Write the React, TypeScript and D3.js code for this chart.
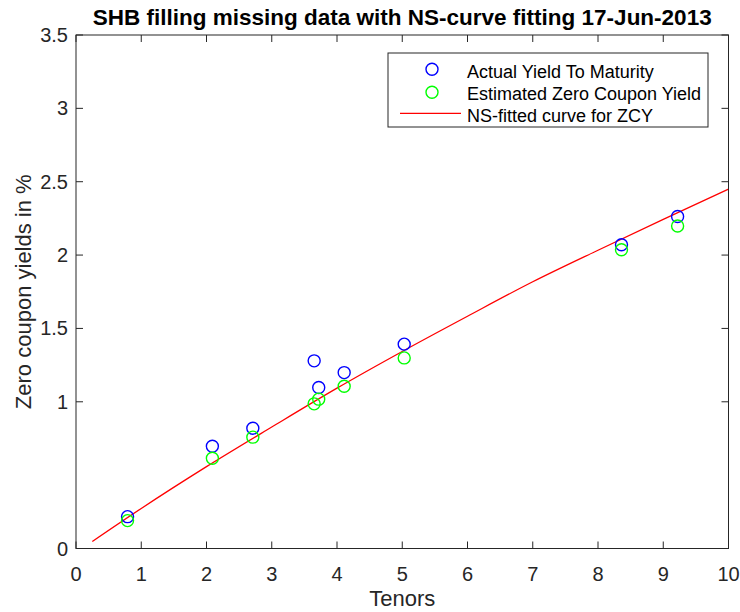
import React from "react";
import * as d3 from "d3";

const title = "SHB filling missing data with NS-curve fitting 17-Jun-2013";
const xLabel = "Tenors";
const yLabel = "Zero coupon yields in %";

const tenors = [0.79, 2.09, 2.71, 3.65, 3.72, 4.11, 5.03, 8.36, 9.22];
const actualYTM = [0.217, 0.697, 0.82, 1.279, 1.097, 1.199, 1.393, 2.07, 2.263];
const estimatedZCY = [0.19, 0.615, 0.759, 0.986, 1.018, 1.106, 1.299, 2.036, 2.198];

const curveX = [0.25, 1, 2, 3, 4, 5, 6, 7, 8, 9, 10];
const curveY = [0.048, 0.273, 0.558, 0.828, 1.093, 1.343, 1.583, 1.818, 2.033, 2.243, 2.45];

const xTicks = [0, 1, 2, 3, 4, 5, 6, 7, 8, 9, 10];
const yTicks = [0, 1, 1.5, 2, 2.5, 3, 3.5];

const legendLabels = [
  "Actual Yield To Maturity",
  "Estimated Zero Coupon Yield",
  "NS-fitted curve for ZCY",
];

export default function App() {
  const W = 740, H = 612;
  const L = 76, R = 728.5, T = 35, B = 548.5;
  const x = d3.scaleLinear().domain([0, 10]).range([L, R]);
  const y = d3.scaleLinear().domain([0, 3.5]).range([B, T]);
  const axisColor = "#262626";
  const font = "'Liberation Sans', Arial, Helvetica, sans-serif";
  const tickLen = 7;

  const line = d3
    .line<number>()
    .x((_, i) => x(curveX[i]))
    .y((d) => y(d))
    .curve(d3.curveMonotoneX);

  const legendBaselines = [78, 100, 121.5];

  return (
    <svg width={W} height={H} style={{ position: "absolute", left: 0, top: 0, background: "#fff" }} fontFamily={font}>
      <rect x={0} y={0} width={W} height={H} fill="#fff" />
      <path d={line(curveY) || ""} fill="none" stroke="#ff0000" strokeWidth={1.3} />
      {tenors.map((t, i) => (
        <circle key={"b" + i} cx={x(t)} cy={y(actualYTM[i])} r={6} fill="none" stroke="#0000ff" strokeWidth={1.4} />
      ))}
      {tenors.map((t, i) => (
        <circle key={"g" + i} cx={x(t)} cy={y(estimatedZCY[i])} r={6} fill="none" stroke="#00ff00" strokeWidth={1.4} />
      ))}
      {/* axes box */}
      <rect x={L} y={T} width={R - L} height={B - T} fill="none" stroke={axisColor} strokeWidth={1} />
      {xTicks.map((t) => (
        <g key={"xt" + t}>
          <line x1={x(t)} x2={x(t)} y1={B} y2={B - tickLen} stroke={axisColor} />
          <line x1={x(t)} x2={x(t)} y1={T} y2={T + tickLen} stroke={axisColor} />
          <text x={x(t)} y={581} textAnchor="middle" fontSize={20} fill={axisColor}>{t}</text>
        </g>
      ))}
      {yTicks.map((t) => (
        <g key={"yt" + t}>
          <line x1={L} x2={L + tickLen} y1={y(t)} y2={y(t)} stroke={axisColor} />
          <line x1={R} x2={R - tickLen} y1={y(t)} y2={y(t)} stroke={axisColor} />
          <text x={68} y={y(t) + 7} textAnchor="end" fontSize={20} fill={axisColor}>{t}</text>
        </g>
      ))}
      <text x={(L + R) / 2} y={606} textAnchor="middle" fontSize={22} fill={axisColor}>{xLabel}</text>
      <text transform={`translate(30.5, ${(T + B) / 2}) rotate(-90)`} textAnchor="middle" fontSize={22} fill={axisColor}>{yLabel}</text>
      <text x={(L + R) / 2} y={25} textAnchor="middle" fontSize={22.5} fontWeight="bold" fill="#000">{title}</text>
      {/* legend */}
      <rect x={388} y={53} width={320} height={74} fill="#fff" stroke={axisColor} strokeWidth={1} />
      <circle cx={432} cy={69.3} r={6} fill="none" stroke="#0000ff" strokeWidth={1.4} />
      <circle cx={432} cy={92.3} r={6} fill="none" stroke="#00ff00" strokeWidth={1.4} />
      <line x1={400} x2={461} y1={113.3} y2={113.3} stroke="#ff0000" strokeWidth={1.3} />
      {legendLabels.map((s, i) => (
        <text key={s} x={467} y={legendBaselines[i]} fontSize={18} fill="#000">{s}</text>
      ))}
    </svg>
  );
}
